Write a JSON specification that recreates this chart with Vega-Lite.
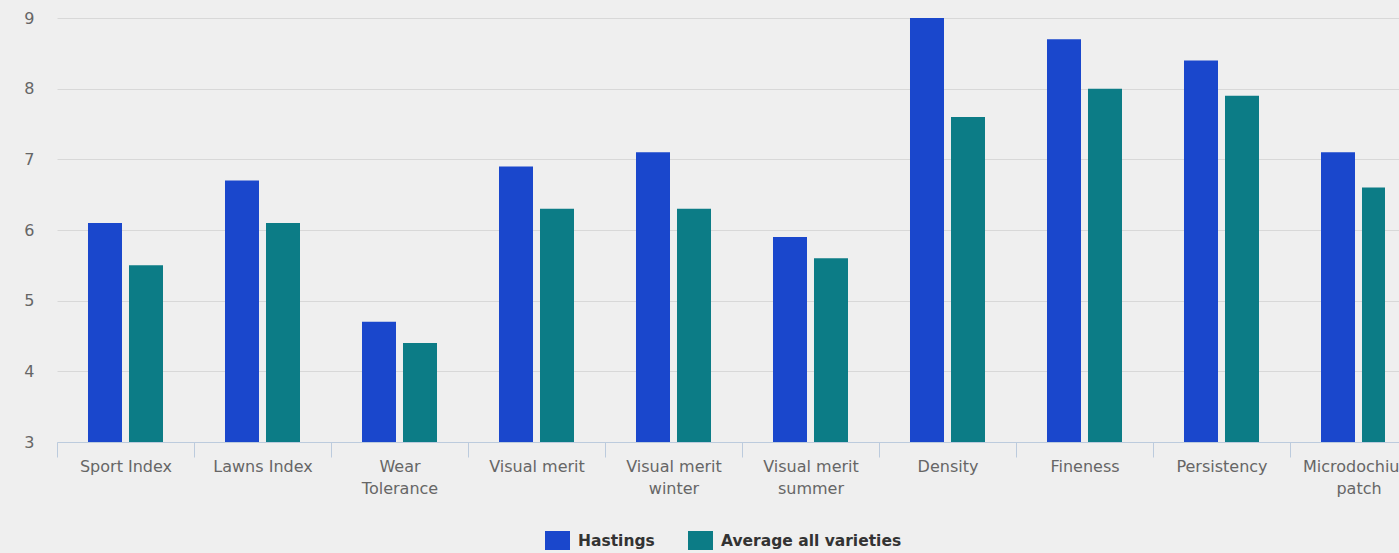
{
  "$schema": "https://vega.github.io/schema/vega-lite/v6.json",
  "autosize": {"type": "none"},
  "width": 1328,
  "height": 424,
  "padding": {"left": 57, "top": 18, "right": 14, "bottom": 111},
  "background": "#efefef",
  "config": {"view": {"stroke": null}, "font": "DejaVu Sans"},
  "data": {
    "values": [
      {"category": "Sport Index", "series": "Hastings", "value": 6.1},
      {"category": "Sport Index", "series": "Average all varieties", "value": 5.5},
      {"category": "Lawns Index", "series": "Hastings", "value": 6.7},
      {"category": "Lawns Index", "series": "Average all varieties", "value": 6.1},
      {"category": "Wear Tolerance", "series": "Hastings", "value": 4.7},
      {"category": "Wear Tolerance", "series": "Average all varieties", "value": 4.4},
      {"category": "Visual merit", "series": "Hastings", "value": 6.9},
      {"category": "Visual merit", "series": "Average all varieties", "value": 6.3},
      {"category": "Visual merit winter", "series": "Hastings", "value": 7.1},
      {"category": "Visual merit winter", "series": "Average all varieties", "value": 6.3},
      {"category": "Visual merit summer", "series": "Hastings", "value": 5.9},
      {"category": "Visual merit summer", "series": "Average all varieties", "value": 5.6},
      {"category": "Density", "series": "Hastings", "value": 9.0},
      {"category": "Density", "series": "Average all varieties", "value": 7.6},
      {"category": "Fineness", "series": "Hastings", "value": 8.7},
      {"category": "Fineness", "series": "Average all varieties", "value": 8.0},
      {"category": "Persistency", "series": "Hastings", "value": 8.4},
      {"category": "Persistency", "series": "Average all varieties", "value": 7.9},
      {"category": "Microdochium patch", "series": "Hastings", "value": 7.1},
      {"category": "Microdochium patch", "series": "Average all varieties", "value": 6.6}
    ]
  },
  "mark": {"type": "bar", "clip": true},
  "encoding": {
    "x": {
      "field": "category",
      "type": "nominal",
      "sort": null,
      "title": null,
      "scale": {"range": [0, 1370], "paddingInner": 0, "paddingOuter": 0},
      "axis": {
        "labelAngle": 0,
        "labelFontSize": 16,
        "labelColor": "#666666",
        "labelLineHeight": 22,
        "labelBaseline": "top",
        "labelPadding": 1,
        "labelLimit": 300,
        "tickBand": "extent",
        "tickSize": 15,
        "tickColor": "#bccbdd",
        "domainColor": "#bccbdd",
        "labelExpr": "datum.value == 'Wear Tolerance' ? ['Wear', 'Tolerance'] : datum.value == 'Visual merit winter' ? ['Visual merit', 'winter'] : datum.value == 'Visual merit summer' ? ['Visual merit', 'summer'] : datum.value == 'Microdochium patch' ? ['Microdochium', 'patch'] : datum.value"
      }
    },
    "xOffset": {
      "field": "series",
      "type": "nominal",
      "sort": ["Hastings", "Average all varieties"],
      "scale": {"paddingInner": 0.1707, "paddingOuter": 0.756}
    },
    "y": {
      "field": "value",
      "type": "quantitative",
      "title": null,
      "scale": {"domain": [3, 9], "zero": false, "nice": false},
      "axis": {
        "values": [3, 4, 5, 6, 7, 8, 9],
        "domain": false,
        "ticks": false,
        "labelFontSize": 16,
        "labelColor": "#666666",
        "labelPadding": 23,
        "gridColor": "#d8d8d8"
      }
    },
    "y2": {"datum": 3},
    "color": {
      "field": "series",
      "type": "nominal",
      "sort": ["Hastings", "Average all varieties"],
      "scale": {"domain": ["Hastings", "Average all varieties"], "range": ["#1a47cc", "#0c7c86"]},
      "legend": {
        "title": null,
        "orient": "none",
        "direction": "horizontal",
        "legendX": 488,
        "legendY": 510,
        "symbolType": "M-1,-0.76H1V0.76H-1Z",
        "symbolSize": 625,
        "symbolStrokeWidth": 0,
        "labelFontSize": 15.5,
        "labelFontWeight": "bold",
        "labelColor": "#333333",
        "labelOffset": 8,
        "columnPadding": 33,
        "labelLimit": 400
      }
    }
  }
}
